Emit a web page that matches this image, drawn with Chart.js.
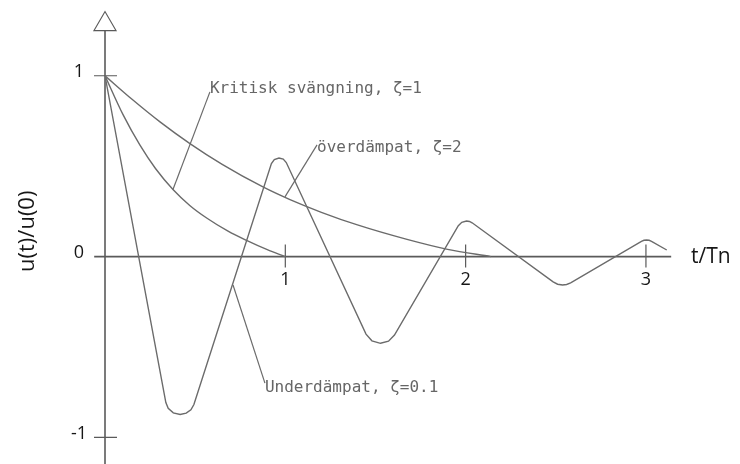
<!DOCTYPE html>
<html>
<head>
<meta charset="utf-8">
<script src="https://cdn.jsdelivr.net/npm/chart.js@4"></script>
<style>
  html, body { margin: 0; padding: 0; background: #fff; }
  #wrap { width: 740px; height: 464px; }
</style>
</head>
<body>
<div id="wrap"><canvas id="myChart"></canvas></div>
<script>
// t/Tn and u(t)/u(0) for the three damping cases
const critT = [0, 0.1, 0.194, 0.28, 0.377, 0.47, 0.566, 0.68, 0.788, 0.9, 1.0];
const critU = [1, 0.785, 0.616, 0.487, 0.371, 0.283, 0.212, 0.142, 0.088, 0.038, 0];

const overT = [0, 0.15, 0.305, 0.471, 0.65, 0.876, 1.026, 1.2, 1.4, 1.675, 1.9, 2.14];
const overU = [1, 0.87, 0.745, 0.625, 0.51, 0.385, 0.315, 0.245, 0.175, 0.095, 0.04, 0];

// straight flanks, each turning point traced along its rounded tip
const underT = [
    0,
    0.3375, 0.3505, 0.3788, 0.4165, 0.4504, 0.4764, 0.4931,
    0.9229, 0.939, 0.965, 0.9884, 1.0053,
    1.4476, 1.4803, 1.528, 1.5724, 1.6054,
    1.9595, 1.9787, 2.005, 2.0211, 2.036,
    2.4853, 2.5102, 2.5374, 2.5602, 2.5824,
    2.975, 2.9889, 3.0033, 3.0177, 3.031,
    3.1154,
];
const underU = [
    1,
    -0.8075, -0.839, -0.864, -0.873, -0.866, -0.847, -0.818,
    0.515, 0.537, 0.545, 0.539, 0.52,
    -0.4287, -0.4657, -0.4795, -0.4679, -0.4342,
    0.1709, 0.1897, 0.1969, 0.1941, 0.187,
    -0.1399, -0.1527, -0.1571, -0.1543, -0.1449,
    0.0841, 0.0902, 0.0918, 0.0902, 0.0846,
    0.0365,
];

const xTicks = [1, 2, 3];
const yTicks = [1, 0, -1];

// curve labels: text position, leader line start and end (data units)
const notes = [
    { text: 'Kritisk svängning, ζ=1', at: [0.582, 0.905], from: [0.582, 0.911], to: [0.377, 0.371] },
    { text: 'överdämpat, ζ=2', at: [1.176, 0.579], from: [1.176, 0.618], to: [0.998, 0.33] },
    { text: 'Underdämpat, ζ=0.1', at: [0.887, -0.75], from: [0.887, -0.7], to: [0.71, -0.157] },
];

const pts = (ts, us) => ts.map((t, i) => ({ x: t, y: us[i] }));

const lineColor = '#6b6b6b';

const curve = (label, ts, us, smooth) => ({
    label,
    data: pts(ts, us),
    borderColor: lineColor,
    borderWidth: 1.4,
    pointRadius: 0,
    cubicInterpolationMode: smooth ? 'monotone' : 'default',
    tension: 0,
    fill: false,
});

const axesPlugin = {
    id: 'axes',
    beforeDatasetsDraw(chart) {
        const ctx = chart.ctx;
        const X = v => chart.scales.x.getPixelForValue(v);
        const Y = v => chart.scales.y.getPixelForValue(v);
        const x0 = X(0), y0 = Y(0);

        ctx.save();
        ctx.strokeStyle = '#5a5a5a';
        ctx.lineWidth = 1.6;

        // vertical axis with open arrow head
        ctx.beginPath();
        ctx.moveTo(x0, chart.height);
        ctx.lineTo(x0, Y(1.25));
        ctx.stroke();
        ctx.lineWidth = 1.2;
        ctx.beginPath();
        ctx.moveTo(x0 - 11, Y(1.25));
        ctx.lineTo(x0 + 11, Y(1.25));
        ctx.lineTo(x0, Y(1.355));
        ctx.closePath();
        ctx.stroke();

        // horizontal axis
        ctx.lineWidth = 1.6;
        ctx.beginPath();
        ctx.moveTo(X(-0.06), y0);
        ctx.lineTo(X(3.14), y0);
        ctx.stroke();

        // tick marks
        ctx.lineWidth = 1.2;
        ctx.beginPath();
        yTicks.filter(v => v !== 0).forEach(v => {
            ctx.moveTo(x0 - 11, Y(v));
            ctx.lineTo(x0 + 12, Y(v));
        });
        xTicks.forEach(v => {
            ctx.moveTo(X(v), y0 - 12);
            ctx.lineTo(X(v), y0 + 11);
        });
        ctx.stroke();

        // tick labels
        ctx.fillStyle = '#161616';
        ctx.font = '18px "Open Sans"';
        ctx.textAlign = 'center';
        ctx.textBaseline = 'middle';
        xTicks.forEach(v => ctx.fillText(String(v), X(v), y0 + 23));
        yTicks.forEach(v => ctx.fillText(String(v), x0 - 26, Y(v) - 4));

        // axis titles
        ctx.font = '21px "Open Sans"';
        ctx.textAlign = 'left';
        ctx.fillText('t/Tn', X(3.25), y0);
        ctx.save();
        ctx.font = '22px "Open Sans"';
        ctx.translate(28, Y(0.14));
        ctx.rotate(-Math.PI / 2);
        ctx.textAlign = 'center';
        ctx.fillText('u(t)/u(0)', 0, 0);
        ctx.restore();

        // curve labels with leader lines
        ctx.strokeStyle = lineColor;
        ctx.lineWidth = 1.2;
        ctx.fillStyle = '#666';
        ctx.font = '16px "DejaVu Sans Mono"';
        ctx.textBaseline = 'alphabetic';
        notes.forEach(n => {
            ctx.beginPath();
            ctx.moveTo(X(n.from[0]), Y(n.from[1]));
            ctx.lineTo(X(n.to[0]), Y(n.to[1]));
            ctx.stroke();
            ctx.fillText(n.text, X(n.at[0]), Y(n.at[1]));
        });
        ctx.restore();
    },
};

const cts = document.querySelector('#myChart').getContext('2d');

const config = {
    type: 'line',
    data: {
        datasets: [
            curve('Kritisk svängning, ζ=1', critT, critU, true),
            curve('överdämpat, ζ=2', overT, overU, true),
            curve('Underdämpat, ζ=0.1', underT, underU, false),
        ],
    },
    options: {
        responsive: true,
        maintainAspectRatio: false,
        animation: false,
        layout: { padding: { left: 105, right: 58, top: 39.6, bottom: 8.5 } },
        scales: {
            x: { type: 'linear', min: 0, max: 3.2, display: false },
            y: { min: -1.1, max: 1.2, display: false },
        },
        plugins: {
            legend: { display: false },
            tooltip: { enabled: false },
        },
    },
    plugins: [axesPlugin],
};

const myChart = new Chart(cts, config);
</script>
</body>
</html>
